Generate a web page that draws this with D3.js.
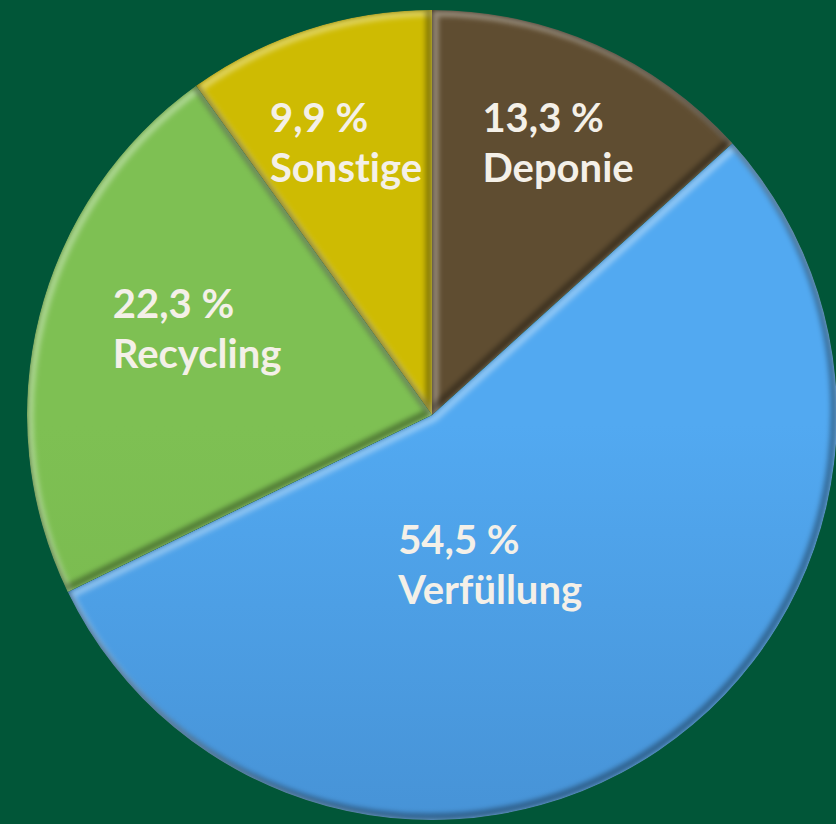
<!DOCTYPE html>
<html>
<head>
<meta charset="utf-8">
<script src="https://cdn.jsdelivr.net/npm/d3@7"></script>
<style>
  html, body { margin: 0; padding: 0; background: #015638; }
  svg { display: block; }
  .label text {
    font-family: Lato, "Open Sans", sans-serif; font-weight: 700; font-size: 40px;
    fill: #f4f0e8; font-variant-ligatures: none; font-feature-settings: "liga" 0, "dlig" 0;
  }
</style>
</head>
<body>
<svg id="chart"></svg>
<script>
const WIDTH = 836;
const HEIGHT = 824;

// data
const categories = ["Deponie", "Verfüllung", "Recycling", "Sonstige"];
const shares = [13.3, 54.5, 22.3, 9.9];
const shareLabels = ["13,3 %", "54,5 %", "22,3 %", "9,9 %"];

// styling
const topColors = ["#5f4d31", "#52a9f1", "#7ec053", "#cebb02"];
const bottomColors = ["#574628", "#3b7cbb", "#70ad47", "#c3ae00"];
// label placement: fraction of radius and angle nudge (degrees) from slice middle
const labelRadius = [0.738, 0.40, 0.617, 0.701];
const labelNudge = [1, 13, 5.7, 0.2];
const LINE_GAP = 50;

const cx = 432, cy = 415, radius = 405;

const svg = d3.select("#chart")
    .attr("width", WIDTH)
    .attr("height", HEIGHT);

svg.append("rect")
    .attr("width", WIDTH)
    .attr("height", HEIGHT)
    .attr("fill", "#015638");

const defs = svg.append("defs");

defs.append("filter")
    .attr("id", "soft")
    .attr("x", "-10%").attr("y", "-10%")
    .attr("width", "120%").attr("height", "120%")
  .append("feGaussianBlur")
    .attr("stdDeviation", 2.5);

const pie = d3.pie().sort(null).value((d) => d.value);
const arcs = pie(categories.map((c, i) => ({ name: c, value: shares[i], idx: i })));
const arc = d3.arc().innerRadius(0).outerRadius(radius);

arcs.forEach((a, i) => {
    const grad = defs.append("linearGradient")
        .attr("id", "grad-" + i)
        .attr("gradientUnits", "userSpaceOnUse")
        .attr("x1", 0).attr("y1", cy - radius)
        .attr("x2", 0).attr("y2", cy + radius);
    grad.append("stop").attr("offset", 0).attr("stop-color", topColors[i]);
    grad.append("stop").attr("offset", 1).attr("stop-color", bottomColors[i]);

    defs.append("clipPath")
        .attr("id", "clip-" + i)
      .append("path")
        .attr("transform", `translate(${cx},${cy})`)
        .attr("d", arc(a));
});

const slices = svg.append("g")
    .attr("class", "slices")
    .selectAll("g")
    .data(arcs)
    .enter().append("g")
        .attr("clip-path", (d, i) => `url(#clip-${i})`);

const inner = slices.append("g")
    .attr("transform", `translate(${cx},${cy})`);

inner.append("path")
    .attr("d", arc)
    .attr("fill", (d, i) => `url(#grad-${i})`);

// bevel: light on upper-left edges, shade on lower-right edges
inner.append("path")
    .attr("d", arc)
    .attr("transform", "translate(3,3)")
    .attr("fill", "none")
    .attr("stroke", "#ffffff")
    .attr("stroke-opacity", 0.35)
    .attr("stroke-width", 7)
    .attr("stroke-linejoin", "round")
    .attr("filter", "url(#soft)");

inner.append("path")
    .attr("d", arc)
    .attr("transform", "translate(-3,-3)")
    .attr("fill", "none")
    .attr("stroke", "#000000")
    .attr("stroke-opacity", 0.35)
    .attr("stroke-width", 7)
    .attr("stroke-linejoin", "round")
    .attr("filter", "url(#soft)");

// labels
const labels = svg.append("g")
    .attr("class", "label")
    .selectAll("g")
    .data(arcs)
    .enter().append("g");

labels.each(function (d, i) {
    const g = d3.select(this);
    const r = radius * labelRadius[i];
    const ang = (d.startAngle + d.endAngle) / 2 + labelNudge[i] * Math.PI / 180;
    const lx = r * Math.sin(ang);
    const ly = -r * Math.cos(ang);
    const t1 = g.append("text").attr("y", -12).text(shareLabels[i]);
    const t2 = g.append("text").attr("y", -12 + LINE_GAP).text(d.data.name);
    const w = Math.max(t1.node().getComputedTextLength(), t2.node().getComputedTextLength());
    g.attr("transform", `translate(${cx + lx - w / 2},${cy + ly})`);
});
</script>
</body>
</html>
